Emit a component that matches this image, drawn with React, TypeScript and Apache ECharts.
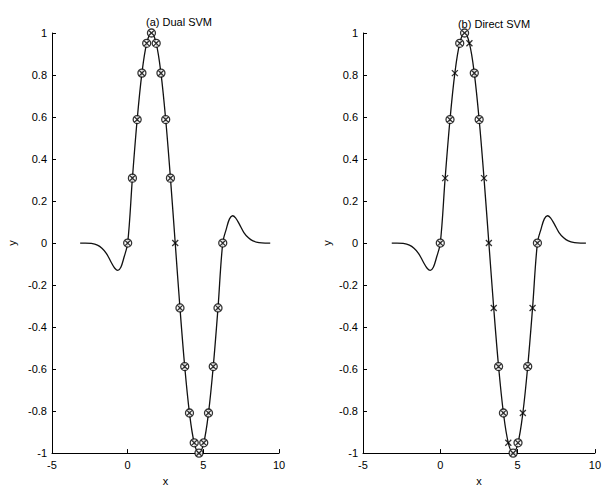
import React, { useEffect, useRef } from "react";
import * as echarts from "echarts";

// Sample points (x = training inputs, y = targets)
const sampleX = [0, 0.314, 0.628, 0.942, 1.257, 1.571, 1.885, 2.199, 2.513, 2.827, 3.142, 3.456, 3.77, 4.084, 4.398, 4.712, 5.027, 5.341, 5.655, 5.969, 6.283];
const sampleY = [0, 0.309, 0.588, 0.809, 0.951, 1.0, 0.951, 0.809, 0.588, 0.309, 0, -0.309, -0.588, -0.809, -0.951, -1.0, -0.951, -0.809, -0.588, -0.309, 0];

// 1 = support vector (circled), 0 = plain cross
const dualSV = [1, 1, 1, 1, 1, 1, 1, 1, 1, 1, 0, 1, 1, 1, 1, 1, 1, 1, 1, 1, 1];
const directSV = [1, 0, 1, 0, 1, 1, 0, 1, 1, 0, 0, 0, 1, 1, 0, 1, 1, 0, 1, 0, 1];

// Fitted regression curve
const curveX = [-3.14, -2.8, -2.4, -2.0, -1.7, -1.4, -1.1, -0.85, -0.65, -0.45, -0.25, 0, 0.314, 0.628, 0.942, 1.257, 1.571, 1.885, 2.199, 2.513, 2.827, 3.142, 3.456, 3.77, 4.084, 4.398, 4.712, 5.027, 5.341, 5.655, 5.969, 6.283, 6.53, 6.73, 6.93, 7.13, 7.38, 7.68, 7.98, 8.28, 8.68, 9.08, 9.42];
const curveY = [0, 0, -0.002, -0.01, -0.025, -0.05, -0.09, -0.12, -0.13, -0.115, -0.07, 0, 0.309, 0.588, 0.809, 0.951, 1.0, 0.951, 0.809, 0.588, 0.309, 0, -0.309, -0.588, -0.809, -0.951, -1.0, -0.951, -0.809, -0.588, -0.309, 0, 0.07, 0.115, 0.13, 0.12, 0.09, 0.05, 0.025, 0.01, 0.002, 0, 0];

const panelTitles = ["(a) Dual SVM", "(b) Direct SVM"];
const xTicks = { min: -5, max: 10, interval: 5 };
const yTicks = { min: -1, max: 1, interval: 0.2 };

const FONT = "Liberation Sans, Arial, Helvetica, sans-serif";
const CIRCLE_X = "path://M10,5A5,5,0,1,1,0,5A5,5,0,1,1,10,5Z M1.46,1.46L8.54,8.54M8.54,1.46L1.46,8.54";
const CROSS = "path://M0,0L10,10M10,0L0,10";

export default function App() {
  const ref = useRef<HTMLDivElement>(null);
  useEffect(() => {
    if (!ref.current) return;
    const chart = echarts.init(ref.current, null, { renderer: "svg" });
    const curve = curveX.map((x, i) => [x, curveY[i]]);
    const pts = (flags: number[], v: number) =>
      sampleX.map((x, i) => [x, sampleY[i]]).filter((_, i) => flags[i] === v);

    const axisCommon = {
      axisLine: { show: true, onZero: false, lineStyle: { color: "#000", width: 1 } },
      axisTick: { show: true, inside: true, length: 4, lineStyle: { color: "#000" } },
      splitLine: { show: false },
      axisLabel: { color: "#000", fontSize: 11, fontFamily: FONT },
      nameTextStyle: { color: "#000", fontSize: 11, fontFamily: FONT },
    };
    const grids = [
      { left: 52, top: 33, width: 227, height: 428 },
      { left: 363, top: 33, width: 232, height: 428 },
    ];
    const series: any[] = [];
    [dualSV, directSV].forEach((flags, g) => {
      series.push({
        type: "line", xAxisIndex: g, yAxisIndex: g, data: curve, smooth: 0.35,
        showSymbol: false, lineStyle: { color: "#111", width: 1.3 }, z: 2,
      });
      series.push({
        type: "scatter", xAxisIndex: g, yAxisIndex: g, data: pts(flags, 0),
        symbol: CROSS, symbolSize: 6,
        itemStyle: { color: "rgba(0,0,0,0)", borderColor: "#000", borderWidth: 1.3 }, z: 3,
      });
      series.push({
        type: "scatter", xAxisIndex: g, yAxisIndex: g, data: pts(flags, 1),
        symbol: CIRCLE_X, symbolSize: 8,
        itemStyle: { color: "#fff", borderColor: "#000", borderWidth: 1.3 }, z: 4,
      });
    });

    chart.setOption({
      animation: false,
      backgroundColor: "#fff",
      title: [
        { text: panelTitles[0], left: 174, top: 11, textAlign: "center",
          textStyle: { fontSize: 11, fontWeight: "normal", color: "#000", fontFamily: FONT } },
        { text: panelTitles[1], left: 489, top: 13, textAlign: "center",
          textStyle: { fontSize: 11, fontWeight: "normal", color: "#000", fontFamily: FONT } },
      ],
      grid: grids,
      xAxis: [0, 1].map((g) => ({
        ...axisCommon, type: "value", gridIndex: g, ...xTicks,
        name: "x", nameLocation: "middle", nameGap: 17,
        axisLabel: { ...axisCommon.axisLabel, margin: 6 },
      })),
      yAxis: [0, 1].map((g) => ({
        ...axisCommon, type: "value", gridIndex: g, ...yTicks,
        name: "y", nameLocation: "middle", nameRotate: 90, nameGap: g === 0 ? 35 : 31,
        axisLabel: { ...axisCommon.axisLabel, margin: 5 },
      })),
      series,
    });
    return () => chart.dispose();
  }, []);
  return (
    <div
      ref={ref}
      style={{ position: "fixed", left: 0, top: 0, width: 604, height: 491 }}
    />
  );
}
